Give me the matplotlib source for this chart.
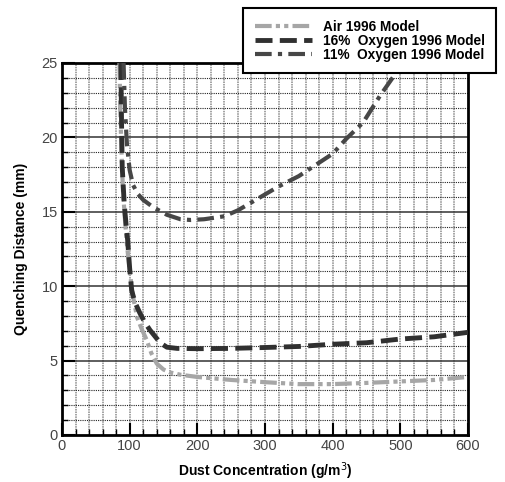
import numpy as np
import matplotlib
matplotlib.use('Agg')
import matplotlib.pyplot as plt
from matplotlib.ticker import MultipleLocator

plt.rcParams['font.family'] = ['Liberation Sans', 'DejaVu Sans']

# curves
air_x = [85, 86, 88, 90, 93, 96, 100, 105, 111, 118, 125, 132, 140, 150, 160, 175, 200, 250, 300, 350, 400, 450, 500, 550, 600]
air_y = [25, 22, 19, 16.5, 14.5, 12.8, 11, 9.3, 7.9, 7.1, 6.4, 5.5, 4.8, 4.4, 4.2, 4.05, 3.9, 3.7, 3.55, 3.42, 3.42, 3.5, 3.6, 3.7, 3.9]

o16_x = [87, 88, 89, 92, 95, 97, 100, 103, 108, 115, 122, 130, 138, 145, 155, 170, 200, 250, 300, 350, 400, 450, 500, 550, 600]
o16_y = [25, 21, 18, 15.5, 14, 13.1, 11.2, 9.7, 8.9, 8.2, 7.6, 7.05, 6.6, 6.2, 5.9, 5.82, 5.8, 5.82, 5.88, 5.95, 6.1, 6.2, 6.45, 6.6, 6.9]

o11_x = [91, 93, 96, 100, 105, 112, 120, 135, 155, 175, 190, 210, 240, 260, 290, 320, 350, 380, 400, 420, 445, 470, 490, 500]
o11_y = [25, 22, 19.5, 17.8, 16.8, 16.2, 15.8, 15.3, 14.8, 14.5, 14.45, 14.5, 14.7, 15.1, 15.9, 16.7, 17.4, 18.3, 18.9, 19.9, 21.0, 22.8, 24.1, 25]

labels = ['Air 1996 Model', '16%  Oxygen 1996 Model', '11%  Oxygen 1996 Model']

fig = plt.figure(figsize=(5.05, 4.82), dpi=100)
ax = fig.add_axes([62/505, 47/482, 406/505, 372/482])

# grid
for gx in np.arange(20, 600, 20):
    ax.axvline(gx, color='#8a8a8a', lw=1.1, ls=(0, (1, 0.6)), zorder=1)
for gy in np.arange(1, 25, 1):
    if gy % 5 == 0:
        ax.axhline(gy, color='#333333', lw=1.1, zorder=1)
    else:
        ax.axhline(gy, color='#222222', lw=0.8, ls=(0, (1, 1)), zorder=1)

l1, = ax.plot(air_x, air_y, color='#a6a6a6', lw=3, ls=(0, (4, 1, 1, 1, 1, 1)), zorder=3)
l2, = ax.plot(o16_x, o16_y, color='#303030', lw=3.5, ls=(0, (3.5, 1.5)), zorder=4)
l3, = ax.plot(o11_x, o11_y, color='#474747', lw=3, ls=(0, (4, 1.5, 1, 1.5)), zorder=4)

ax.set_xlim(0, 600)
ax.set_ylim(0, 25)
ax.xaxis.set_major_locator(MultipleLocator(100))
ax.xaxis.set_minor_locator(MultipleLocator(20))
ax.yaxis.set_major_locator(MultipleLocator(5))
ax.yaxis.set_minor_locator(MultipleLocator(1))
ax.tick_params(which='major', direction='in', length=9, width=1.5, labelsize=10.5,
               labelcolor='#444444', pad=3)
ax.tick_params(which='minor', direction='in', length=4, width=1)
for s in ax.spines.values():
    s.set_linewidth(2)

ax.set_xlabel('Dust Concentration (g/m$^3$)', fontsize=10, fontweight='bold', labelpad=5)
ax.set_ylabel('Quenching Distance (mm)', fontsize=10, fontweight='bold', labelpad=10)

leg = fig.legend([l1, l2, l3], labels, loc='upper left',
                 bbox_to_anchor=(243/505, 1 - 8/482), borderaxespad=0,
                 fancybox=False, framealpha=1, edgecolor='black',
                 prop={'weight': 'bold', 'size': 9.8}, handlelength=4.2,
                 labelspacing=0.0, borderpad=0.85, handletextpad=0.8)
leg.get_frame().set_linewidth(1.5)
leg.set_zorder(10)

plt.savefig('out.png', dpi=100)
